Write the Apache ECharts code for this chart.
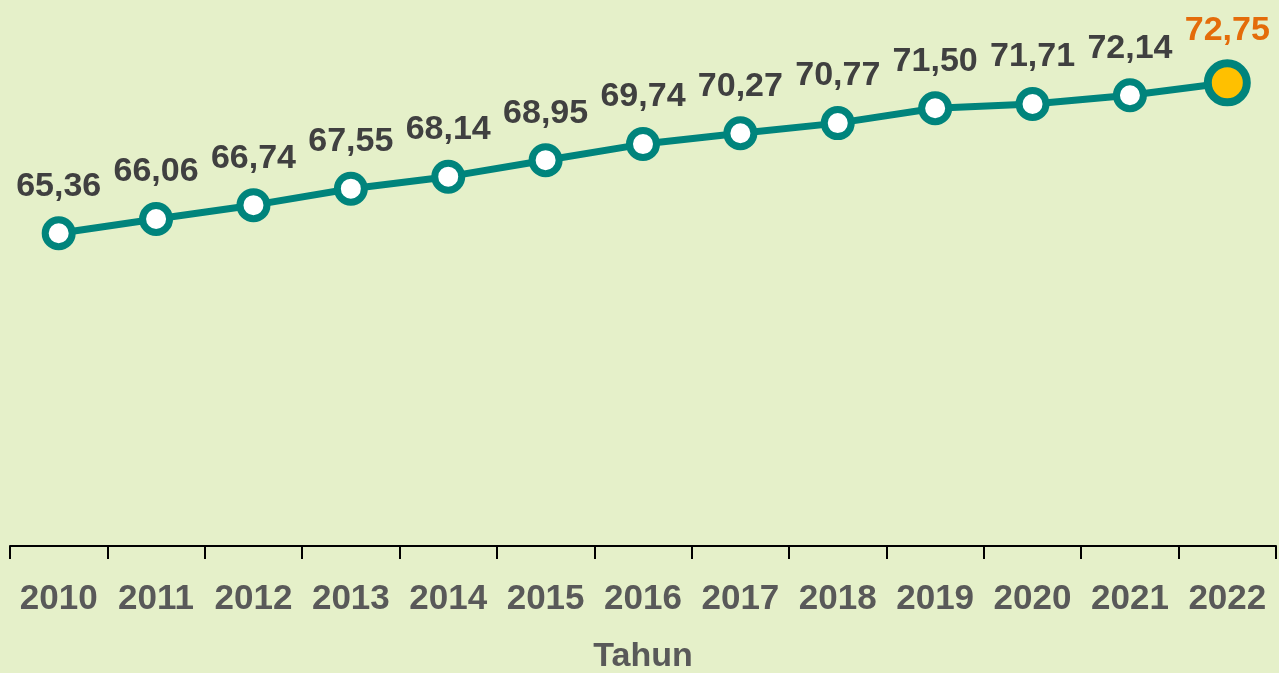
<!DOCTYPE html>
<html>
<head>
<meta charset="utf-8">
<script src="https://cdn.jsdelivr.net/npm/echarts@6/dist/echarts.min.js"></script>
<style>
  html, body { margin: 0; padding: 0; background: #e5f0c9; }
  #main { width: 1279px; height: 673px; }
</style>
</head>
<body>
<div id="main"></div>
<script>
var years = ['2010', '2011', '2012', '2013', '2014', '2015', '2016', '2017', '2018', '2019', '2020', '2021', '2022'];
var values = [65.36, 66.06, 66.74, 67.55, 68.14, 68.95, 69.74, 70.27, 70.77, 71.50, 71.71, 72.14, 72.75];

var font = '"Liberation Sans", Arial, sans-serif';

var chart = echarts.init(document.getElementById('main'));

// titik terakhir disorot
var seriesData = values.map(function (v, i) {
  if (i === values.length - 1) {
    return {
      value: v,
      symbolSize: 39,
      itemStyle: { color: '#ffc000', borderColor: '#00847c', borderWidth: 8 },
      label: { color: '#e46c0a', distance: 12 }
    };
  }
  return v;
});

var option = {
  backgroundColor: '#e5f0c9',
  animation: false,
  grid: { left: 10, right: 3, top: 37, bottom: 127, outerBoundsMode: 'none' },
  xAxis: {
    type: 'category',
    data: years,
    boundaryGap: true,
    name: 'Tahun',
    nameLocation: 'middle',
    nameGap: 94,
    nameTextStyle: { fontFamily: font, fontWeight: 'bold', fontSize: 34, color: '#595959' },
    axisLine: { lineStyle: { color: '#000', width: 2 } },
    axisTick: { show: true, interval: 0, length: 13, lineStyle: { color: '#000', width: 2 } },
    axisLabel: { interval: 0, fontFamily: font, fontWeight: 'bold', fontSize: 35, color: '#595959', margin: 36 }
  },
  yAxis: {
    type: 'value',
    min: 50,
    max: 75,
    show: false
  },
  series: [{
    type: 'line',
    data: seriesData,
    symbol: 'circle',
    symbolSize: 27,
    lineStyle: { color: '#00847c', width: 7 },
    itemStyle: { color: '#fff', borderColor: '#00847c', borderWidth: 7 },
    label: {
      show: true,
      position: 'top',
      distance: 13,
      fontFamily: font,
      fontWeight: 'bold',
      fontSize: 34,
      color: '#404040',
      formatter: function (p) { return p.value.toFixed(2).replace('.', ','); }
    }
  }]
};

chart.setOption(option);
</script>
</body>
</html>
